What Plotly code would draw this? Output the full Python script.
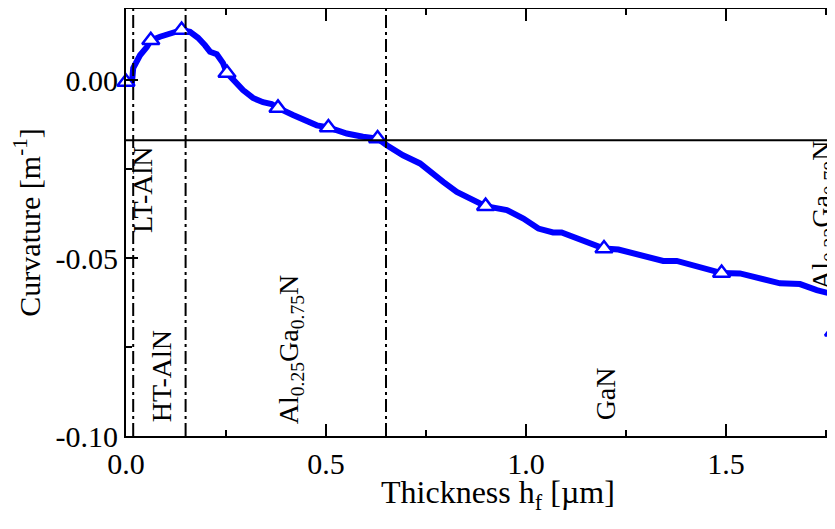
import plotly.graph_objects as go

# Curve (thickness in µm, curvature in 1/m)
thickness = [0.0, 0.015, 0.018, 0.035, 0.052, 0.062, 0.085, 0.11, 0.139, 0.16, 0.18,
             0.1975, 0.21, 0.227, 0.2425, 0.2525, 0.2725, 0.2925, 0.3175, 0.3425, 0.364,
             0.38, 0.4175, 0.435, 0.477, 0.506, 0.552, 0.5925, 0.629, 0.652, 0.6925,
             0.735, 0.76, 0.793, 0.827, 0.86, 0.899, 0.952, 0.9935, 1.031, 1.0675,
             1.089, 1.127, 1.16, 1.195, 1.231, 1.285, 1.343, 1.377, 1.427, 1.489,
             1.535, 1.593, 1.635, 1.685, 1.727, 1.768, 1.769]
curvature = [-0.0005, -0.0005, 0.0034, 0.0070, 0.0093, 0.0112, 0.0122, 0.0129, 0.0141,
             0.0136, 0.0119, 0.0098, 0.0080, 0.0073, 0.0048, 0.0020, -0.0005, -0.0028,
             -0.0050, -0.0062, -0.0067, -0.0078, -0.0098, -0.0107, -0.0127, -0.0133,
             -0.0150, -0.0159, -0.0164, -0.0183, -0.0211, -0.0234, -0.0258, -0.0286,
             -0.0314, -0.0333, -0.0354, -0.0365, -0.0389, -0.0417, -0.0428, -0.0428,
             -0.0445, -0.0459, -0.0473, -0.0476, -0.0492, -0.0508, -0.0508, -0.0525,
             -0.0542, -0.0543, -0.0560, -0.0571, -0.0573, -0.0590, -0.0602, -0.0707]

# Triangle markers
marker_thickness = [0.0, 0.062, 0.139, 0.2525, 0.38, 0.506, 0.629, 0.899, 1.195, 1.489, 1.769]
marker_curvature = [-0.0005, 0.0112, 0.0141, 0.0020, -0.0078, -0.0133, -0.0164, -0.0354,
                    -0.0473, -0.0542, -0.0707]

# Layer boundaries and reference level
boundaries = [0.018, 0.149, 0.65]
reference_level = -0.0169

# Layer labels
layer_labels = ["LT-AlN", "HT-AlN", "Al<sub>0.25</sub>Ga<sub>0.75</sub>N", "GaN",
                "Al<sub>0.22</sub>Ga<sub>0.78</sub>N"]
label_x = [0.04, 0.0875, 0.41, 1.1975, 1.7425]
label_y = [-0.0309, -0.0832, -0.0759, -0.0883, -0.0382]

y_tickvals = [-0.10, -0.05, 0.00]
y_ticktext = ["-0.10", "-0.05", "0.00"]
x_tickvals = [0.0, 0.5, 1.0, 1.5]
x_ticktext = ["0.0", "0.5", "1.0", "1.5"]
x_title = "Thickness h<sub>f</sub> [µm]"
y_title = "Curvature [m<sup>-1</sup>]"

FONT = "Liberation Serif"
DASHDOT = "13px,4px,3px,4px"

fig = go.Figure()
fig.add_trace(go.Scatter(x=thickness, y=curvature, mode="lines",
                         line=dict(color="#0000FF", width=6), showlegend=False))
fig.add_trace(go.Scatter(x=marker_thickness, y=marker_curvature, mode="markers",
                         marker=dict(symbol="triangle-up", size=15, color="white",
                                     line=dict(color="#0000FF", width=2.5)),
                         showlegend=False, cliponaxis=False))

for b in boundaries:
    fig.add_shape(type="line", xref="x", yref="paper", x0=b, x1=b, y0=0, y1=1,
                  line=dict(color="black", width=2, dash=DASHDOT))
fig.add_shape(type="line", xref="paper", yref="y", x0=0, x1=1,
              y0=reference_level, y1=reference_level,
              line=dict(color="black", width=2))

for t, lx, ly in zip(layer_labels, label_x, label_y):
    fig.add_annotation(x=lx, y=ly, text=t, textangle=-90, showarrow=False,
                       xanchor="center", yanchor="middle",
                       font=dict(family=FONT, size=28, color="black"))

# x-axis title (the original plot is cropped on the right, so its title sits right of centre)
fig.add_annotation(x=0.93, xref="x", y=-0.136, yref="paper", text=x_title,
                   showarrow=False, xanchor="center", yanchor="middle",
                   font=dict(family=FONT, size=32, color="black"))

# page body has an 8px margin, so the figure is sized to fill the 835x529 window
fig.update_layout(
    width=827, height=521,
    margin=dict(l=118, r=0, t=1, b=93),
    plot_bgcolor="white", paper_bgcolor="white",
    font=dict(family=FONT, size=30, color="black"),
)
fig.update_xaxes(
    range=[0, 1.7725], showgrid=False, zeroline=False, automargin=False,
    showline=True, linecolor="black", linewidth=2, mirror="ticks",
    ticks="inside", ticklen=12, tickwidth=2, tickcolor="black",
    tickmode="array", tickvals=x_tickvals, ticktext=x_ticktext,
    minor=dict(tickmode="array", tickvals=[0.25, 0.75, 1.25, 1.75], ticks="inside",
               ticklen=6, tickwidth=2, tickcolor="black"),
    tickfont=dict(family=FONT, size=30),
)
fig.update_yaxes(
    range=[-0.10, 0.02], showgrid=False, zeroline=False, automargin=False,
    showline=True, linecolor="black", linewidth=2, mirror=False,
    ticks="inside", ticklen=12, tickwidth=2, tickcolor="black",
    tickmode="array", tickvals=y_tickvals, ticktext=y_ticktext,
    minor=dict(tickmode="array", tickvals=[-0.075, -0.025], ticks="inside",
               ticklen=6, tickwidth=2, tickcolor="black"),
    tickfont=dict(family=FONT, size=30),
    title=dict(text=y_title, font=dict(family=FONT, size=30), standoff=6),
)

fig.write_html("out.html")
